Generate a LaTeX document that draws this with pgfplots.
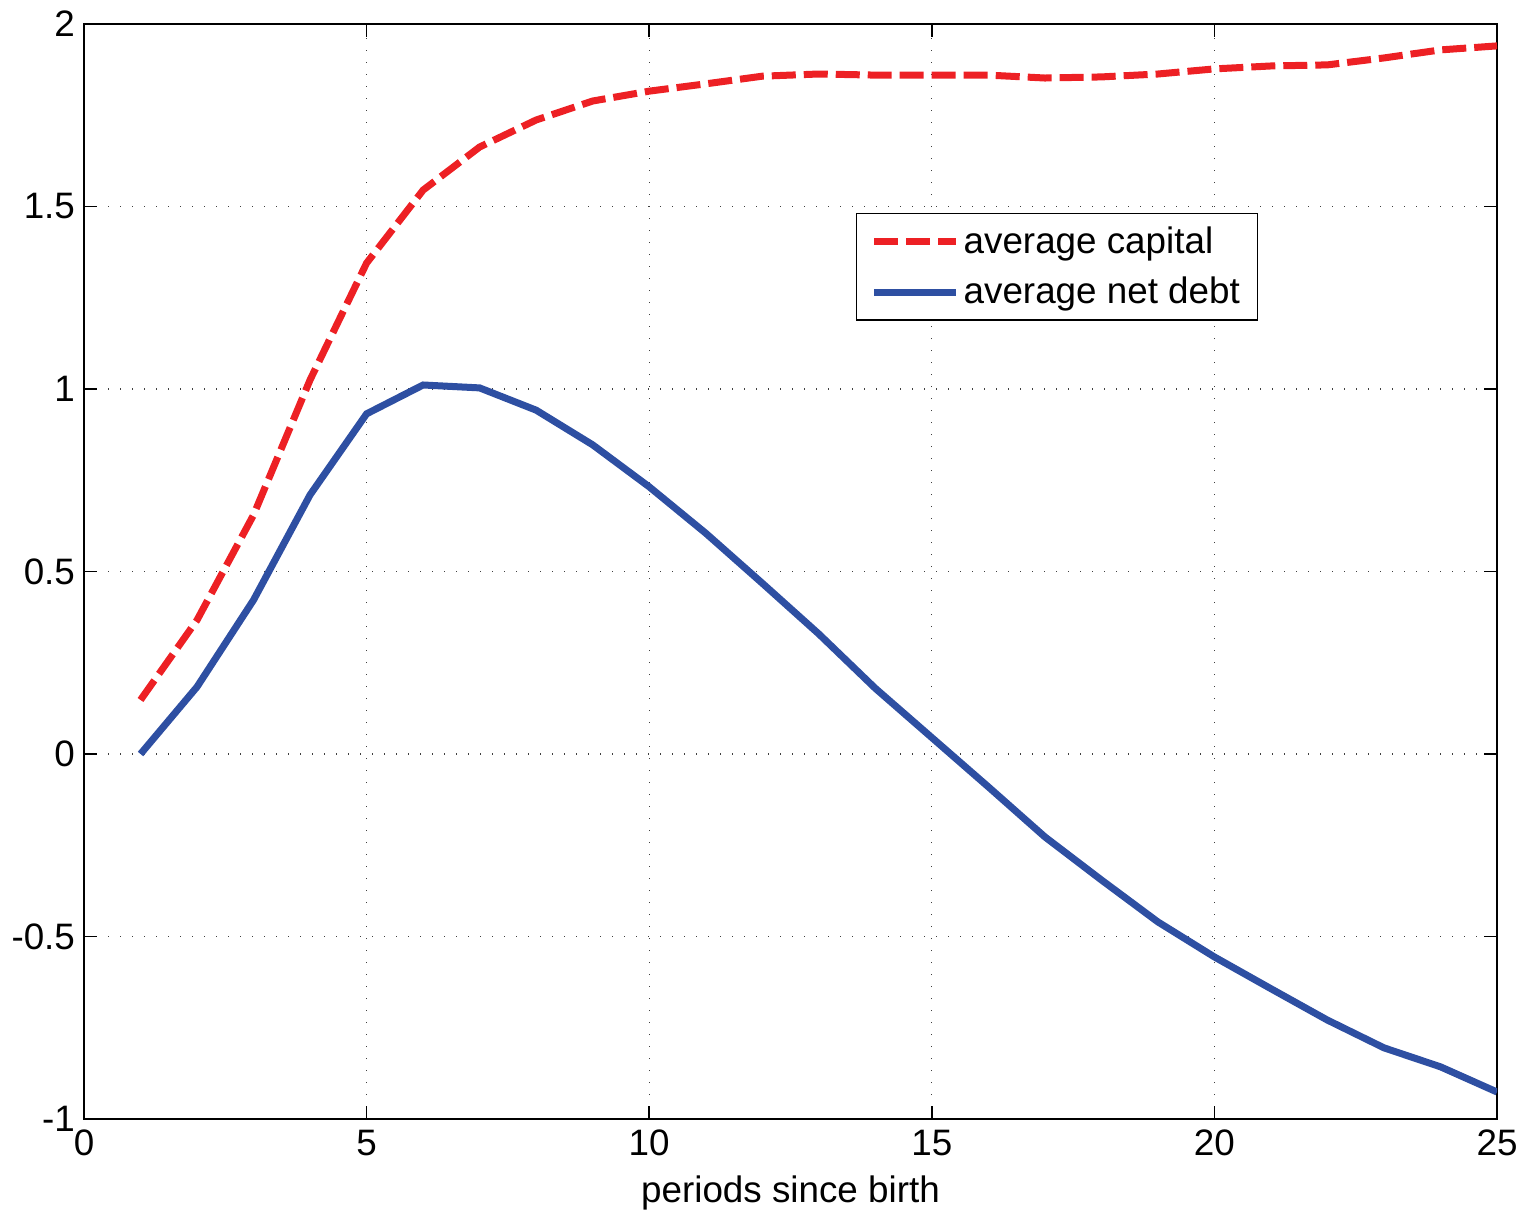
\documentclass[border=0pt]{standalone}
\usepackage{pgfplots}
\pgfplotsset{compat=1.18}
\usepackage{fontspec}
\setmainfont{Liberation Sans}
\definecolor{capred}{RGB}{237,32,36}
\definecolor{debtblue}{RGB}{46,79,162}
\newcommand{\fs}{\fontsize{18.4}{22}\selectfont}
\begin{document}
\begin{tikzpicture}
\begin{axis}[
  scale only axis, width=706.5pt, height=547.5pt,
  at={(0,0)}, anchor=south west,
  xmin=0, xmax=25, ymin=-1, ymax=2,
  xtick={0,5,10,15,20,25},
  xticklabels={0,5,10,15,20,25},
  ytick={-1,-0.5,0,0.5,1,1.5,2},
  yticklabels={-1,-0.5,0,0.5,1,1.5,2},
  tick align=inside,
  major tick length=6.5pt,
  tick style={black, line width=0.8pt},
  axis line style={black, line width=0.8pt},
  grid=major,
  major grid style={black!75, line width=0.6pt, dash pattern=on 0.6pt off 5.4pt},
  every tick label/.append style={font=\fs},
  xticklabel style={yshift=-2pt},
  yticklabel style={xshift=-1pt},
  xlabel={periods since birth},
  label style={font=\fs},
  xlabel style={yshift=-3pt},
  legend style={at={(0.5464,0.8274)}, anchor=north west, draw=black, line width=0.6pt,
    fill=white, font=\fs, inner xsep=7pt, inner ysep=4.5pt, row sep=6.5pt,
    cells={anchor=west}},
  legend image code/.code={\draw[#1] (0pt,0pt) -- (38.5pt,0pt); \path (0pt,0pt) -- (41pt,0pt);},
]
\addplot[capred, line width=3.5pt, dash pattern=on 12pt off 4pt] coordinates {
(1,0.148) (2,0.367) (3,0.655) (4,1.025) (5,1.345) (6,1.545) (7,1.663) (8,1.737)
(9,1.789) (10,1.816) (11,1.836) (12,1.857) (13,1.863) (14,1.860) (15,1.860)
(16,1.860) (17,1.852) (18,1.855) (19,1.863) (20,1.877) (21,1.885) (22,1.888)
(23,1.907) (24,1.929) (25,1.940)};
\addlegendentry{average capital}
\addplot[debtblue, line width=3.5pt] coordinates {
(1,0) (2,0.184) (3,0.422) (4,0.710) (5,0.932) (6,1.011) (7,1.003) (8,0.942)
(9,0.847) (10,0.732) (11,0.605) (12,0.468) (13,0.329) (14,0.180) (15,0.045)
(16,-0.090) (17,-0.227) (18,-0.345) (19,-0.460) (20,-0.556) (21,-0.643)
(22,-0.729) (23,-0.805) (24,-0.857) (25,-0.926)};
\addlegendentry{average net debt}
\end{axis}
\pgfresetboundingbox
\path (-42pt,-46.5pt) rectangle (720pt,559.5pt);
\end{tikzpicture}
\end{document}
